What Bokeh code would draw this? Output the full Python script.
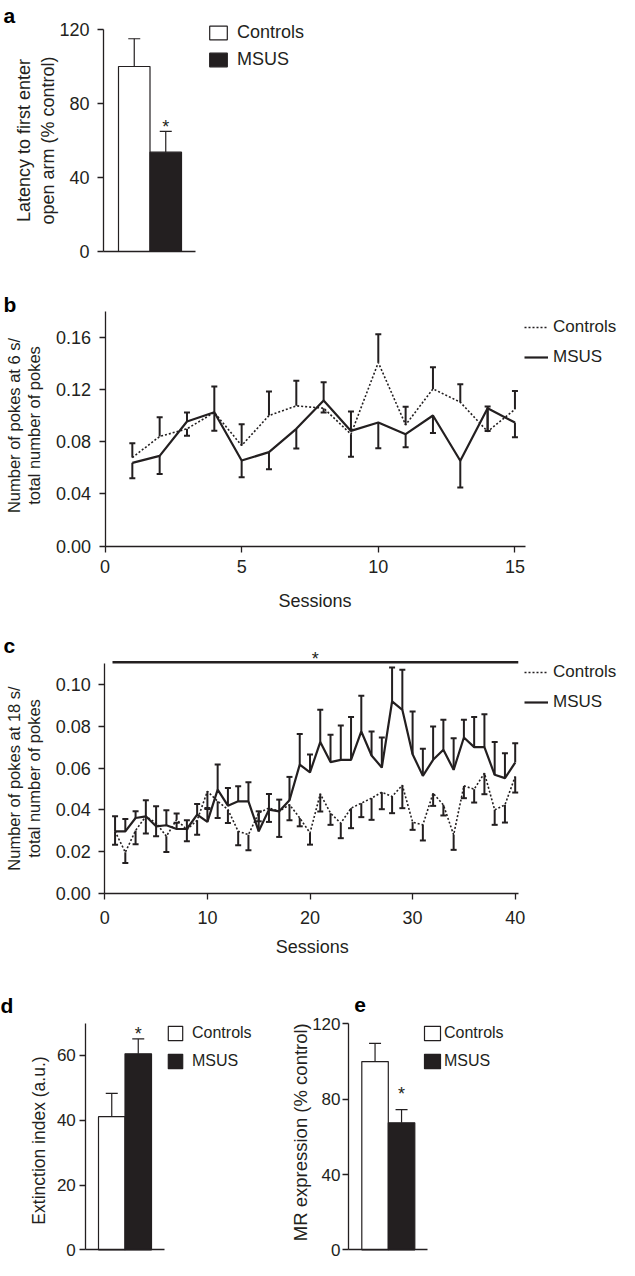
import numpy as np
from bokeh.plotting import figure
from bokeh.models import (ColumnDataSource, Range1d, FixedTicker, Whisker, TeeHead,
                          Legend, LegendItem, Label, NumeralTickFormatter)
from bokeh.layouts import column, row
from bokeh.embed import file_html
from bokeh.resources import INLINE

INK = "#231f20"
FONT = "Liberation Sans"

# ---------------- data ----------------
groups = ["Controls", "MSUS"]

# a: latency to first enter open arm (% control)
latency_mean = [100.0, 53.7]
latency_sem = [15.0, 11.2]

# b: pokes at 6 s / total pokes, sessions 1-15
sessions_b = list(range(1, 16))
b_controls = [0.0678, 0.0839, 0.0898, 0.1023, 0.0770, 0.1000, 0.1074, 0.1056,
              0.0857, 0.1406, 0.0928, 0.1204, 0.1102, 0.0877, 0.1048]
b_controls_sem = [0.0110, 0.0148, 0.0054, 0.0140, 0.0163, 0.0184, 0.0192, 0.0033,
                  0.0174, 0.0217, 0.0140, 0.0166, 0.0138, 0.0192, 0.0140]
b_controls_dir = [1, 1, -1, -1, 1, 1, 1, -1, -1, 1, 1, 1, 1, 1, 1]
b_msus = [0.0637, 0.0691, 0.0954, 0.1025, 0.0655, 0.0719, 0.0898, 0.1115,
          0.0882, 0.0946, 0.0857, 0.1000, 0.0653, 0.1056, 0.0946]
b_msus_sem = [0.0117, 0.0140, 0.0069, 0.0197, 0.0128, 0.0130, 0.0151, 0.0140,
              0.0148, 0.0197, 0.0100, 0.0135, 0.0204, 0.0174, 0.0112]
b_msus_dir = [-1, -1, 1, 1, -1, -1, -1, 1, 1, -1, -1, -1, -1, -1, -1]

# c: pokes at 18 s / total pokes, sessions 1-40
sessions_c = list(range(1, 41))
c_controls = [0.0297, 0.0196, 0.0301, 0.0369, 0.0337, 0.0273, 0.0353, 0.0305, 0.0350, 0.0489,
              0.0441, 0.0401, 0.0297, 0.0281, 0.0385, 0.0409, 0.0393, 0.0425, 0.0361, 0.0289,
              0.0477, 0.0384, 0.0336, 0.0408, 0.0432, 0.0456, 0.0485, 0.0464, 0.0518, 0.0341,
              0.0328, 0.0480, 0.0424, 0.0280, 0.0515, 0.0499, 0.0576, 0.0400, 0.0424, 0.0560]
c_controls_sem = [0.0064, 0.0051, 0.0066, 0.0083, 0.0064, 0.0075, 0.0030, 0.0056, 0.0069, 0.0085,
                  0.0080, 0.0064, 0.0067, 0.0075, 0.0040, 0.0067, 0.0123, 0.0075, 0.0040, 0.0056,
                  0.0085, 0.0056, 0.0072, 0.0096, 0.0067, 0.0104, 0.0082, 0.0080, 0.0110, 0.0037,
                  0.0075, 0.0061, 0.0051, 0.0072, 0.0059, 0.0064, 0.0101, 0.0072, 0.0085, 0.0077]
c_controls_dir = [-1, -1, -1, -1, -1, -1, 1, -1, -1, -1,
                  -1, -1, -1, -1, -1, -1, -1, -1, -1, -1,
                  -1, -1, -1, -1, -1, -1, -1, -1, -1, -1,
                  -1, -1, -1, -1, -1, -1, -1, -1, -1, -1]
c_msus = [0.0297, 0.0297, 0.0361, 0.0369, 0.0321, 0.0326, 0.0308, 0.0308, 0.0377, 0.0342,
          0.0497, 0.0420, 0.0441, 0.0441, 0.0297, 0.0401, 0.0393, 0.0446, 0.0617, 0.0580,
          0.0725, 0.0629, 0.0640, 0.0640, 0.0776, 0.0661, 0.0603, 0.0920, 0.0880, 0.0667,
          0.0563, 0.0640, 0.0688, 0.0592, 0.0747, 0.0701, 0.0701, 0.0568, 0.0552, 0.0627]
c_msus_sem = [0.0072, 0.0059, 0.0032, 0.0077, 0.0096, 0.0072, 0.0030, 0.0042, 0.0051, 0.0067,
              0.0120, 0.0085, 0.0072, 0.0091, 0.0096, 0.0075, 0.0056, 0.0112, 0.0147, 0.0085,
              0.0155, 0.0131, 0.0165, 0.0205, 0.0171, 0.0115, 0.0144, 0.0163, 0.0192, 0.0205,
              0.0130, 0.0160, 0.0144, 0.0152, 0.0085, 0.0144, 0.0158, 0.0157, 0.0120, 0.0093]
c_msus_dir = [1] * 40
c_sig_level = 0.1108

# d: extinction index (a.u.)
extinction_mean = [41.1, 60.5]
extinction_sem = [7.2, 4.6]

# e: MR expression (% control)
mr_mean = [100.0, 67.5]
mr_sem = [9.7, 7.0]


# ---------------- helpers ----------------
def panel_fig(width, height, axis_x_px, axis_x_data, px_per_x, zero_y_px, px_per_y,
              tick_standoff):
    """Full-frame figure; y axis drawn at axis_x_data (axis_x_px from the left edge),
    x axis drawn at y=0 (zero_y_px from the top edge)."""
    x_start = axis_x_data - axis_x_px / px_per_x
    y_start = -(height - zero_y_px) / px_per_y
    p = figure(width=width, height=height,
               x_range=Range1d(x_start, x_start + width / px_per_x),
               y_range=Range1d(y_start, y_start + height / px_per_y),
               output_backend="svg", toolbar_location=None,
               min_border_left=0, min_border_right=0, min_border_top=0, min_border_bottom=0)
    p.outline_line_color = None
    p.xgrid.visible = False
    p.ygrid.visible = False
    p.background_fill_color = "white"
    p.border_fill_color = "white"
    for ax in p.axis:
        ax.axis_line_color = INK
        ax.axis_line_width = 1.3
        ax.major_tick_line_color = INK
        ax.major_tick_line_width = 1.3
        ax.major_tick_out = 6
        ax.major_tick_in = 0
        ax.minor_tick_line_color = None
        ax.major_label_text_font = FONT
        ax.major_label_text_color = INK
    p.yaxis.major_label_standoff = tick_standoff
    p.yaxis.fixed_location = axis_x_data
    p.xaxis.fixed_location = 0
    return p


def text(p, s, x, y_top, size, angle=0.0, align="left", baseline="alphabetic", bold=False):
    p.add_layout(Label(x=x, y=p.height - y_top, x_units="screen", y_units="screen",
                       text=s, angle=angle, text_font=FONT,
                       text_font_style="bold" if bold else "normal",
                       text_font_size=size, text_color="black" if bold else INK,
                       text_align=align, text_baseline=baseline))


def ylabel_lines(p, lines, baselines_x, center_y, size):
    for s, bx in zip(lines, baselines_x):
        text(p, s, bx, center_y, size, angle=np.pi / 2, align="center")


def whiskers(p, xs, ys, sems, dirs, cap, lw):
    xs = np.asarray(xs, float); ys = np.asarray(ys, float)
    sems = np.asarray(sems, float); dirs = np.asarray(dirs)
    up = dirs > 0
    dn = ~up
    if up.any():
        src = ColumnDataSource(dict(base=xs[up], lower=ys[up], upper=ys[up] + sems[up]))
        p.add_layout(Whisker(source=src, base="base", lower="lower", upper="upper",
                             dimension="height", line_color=INK, line_width=lw,
                             upper_head=TeeHead(size=cap, line_color=INK, line_width=lw),
                             lower_head=None))
    if dn.any():
        src = ColumnDataSource(dict(base=xs[dn], lower=ys[dn] - sems[dn], upper=ys[dn]))
        p.add_layout(Whisker(source=src, base="base", lower="lower", upper="upper",
                             dimension="height", line_color=INK, line_width=lw,
                             lower_head=TeeHead(size=cap, line_color=INK, line_width=lw),
                             upper_head=None))


def bar_panel(width, height, axis_x_px, bar_gap_px, bar_px, zero_y_px, px_per_unit,
              axis_len_px, ymax, yticks, means, sems, tick_size, tick_standoff, star_offset,
              legend_loc, glyph_w, glyph_h, lab_standoff, spacing, legend_size):
    x0 = 0.5 - bar_gap_px / bar_px
    p = panel_fig(width, height, axis_x_px, x0, bar_px, zero_y_px, px_per_unit, tick_standoff)
    r_c = p.vbar(x=[1], top=[means[0]], width=1.0, bottom=0, fill_color="white",
                 line_color=INK, line_width=1.2)
    r_m = p.vbar(x=[2], top=[means[1]], width=1.0, bottom=0, fill_color=INK,
                 line_color=INK, line_width=1.2)
    whiskers(p, [1, 2], means, sems, [1, 1], 12, 1.2)
    p.add_layout(Label(x=2, y=means[1] + sems[1], text="*", text_align="center",
                       text_baseline="alphabetic", y_offset=star_offset,
                       text_font=FONT, text_font_size="18px", text_color=INK))
    p.xaxis.ticker = FixedTicker(ticks=[])
    p.xaxis.major_label_text_font_size = "0px"
    p.xaxis.bounds = (x0, x0 + axis_len_px / bar_px)
    p.yaxis.ticker = FixedTicker(ticks=yticks)
    p.yaxis.bounds = (0, ymax)
    p.yaxis.major_label_text_font_size = tick_size
    leg = Legend(items=[LegendItem(label=groups[0], renderers=[r_c]),
                        LegendItem(label=groups[1], renderers=[r_m])],
                 location=legend_loc, orientation="vertical",
                 glyph_width=glyph_w, glyph_height=glyph_h, label_height=22,
                 label_standoff=lab_standoff, spacing=spacing,
                 padding=0, margin=0,
                 border_line_color=None, background_fill_alpha=0,
                 label_text_font=FONT, label_text_font_size=legend_size,
                 label_text_color=INK)
    p.add_layout(leg)
    return p


def line_panel(height, axis_x_px, px_per_session, zero_y_px, px_per_unit,
               xmax_axis, ymax_axis, xticks, yticks, x_standoff, sessions,
               ctrl, ctrl_sem, ctrl_dir, msus, msus_sem, msus_dir, legend_loc):
    p = panel_fig(619, height, axis_x_px, 0, px_per_session, zero_y_px, px_per_unit, 8)
    whiskers(p, sessions, ctrl, ctrl_sem, ctrl_dir, 6, 2)
    whiskers(p, sessions, msus, msus_sem, msus_dir, 6, 2)
    r_c = p.line(sessions, ctrl, line_color=INK, line_width=1.6, line_dash="2 2")
    r_m = p.line(sessions, msus, line_color=INK, line_width=2.2)
    p.xaxis.ticker = FixedTicker(ticks=xticks)
    p.xaxis.bounds = (0, xmax_axis)
    p.yaxis.ticker = FixedTicker(ticks=yticks)
    p.yaxis.bounds = (0, ymax_axis)
    p.yaxis.formatter = NumeralTickFormatter(format="0.00")
    for ax in p.axis:
        ax.major_label_text_font_size = "18px"
    p.xaxis.major_label_standoff = x_standoff
    leg = Legend(items=[LegendItem(label=groups[0], renderers=[r_c]),
                        LegendItem(label=groups[1], renderers=[r_m])],
                 location=legend_loc, orientation="vertical",
                 glyph_width=24, glyph_height=20, label_height=20,
                 label_standoff=5, spacing=10, padding=0, margin=0,
                 border_line_color=None, background_fill_alpha=0,
                 label_text_font=FONT, label_text_font_size="17px",
                 label_text_color=INK)
    p.add_layout(leg)
    return p


# ---------------- panel a ----------------
fig_a = bar_panel(619, 285, 103, 15.0, 31.5, 251, 1.85, 92, 120, [0, 40, 80, 120],
                  latency_mean, latency_sem, "18px", 8, 4, (207, 215), 22, 17, 8, 5, "18px")
text(fig_a, "a", 3, 15, "21px", bold=True)
ylabel_lines(fig_a, ["Latency to first enter", "open arm (% control)"], [23, 47.5], 140, "18px")

# ---------------- panel b ----------------
fig_b = line_panel(340, 104.5, 27.33, 260.5, 1305, 15.38, 0.18, [0, 5, 10, 15],
                   [0, 0.04, 0.08, 0.12, 0.16], 8, sessions_b,
                   b_controls, b_controls_sem, b_controls_dir,
                   b_msus, b_msus_sem, b_msus_dir, (524, 258))
text(fig_b, "b", 3, 18.5, "21px", bold=True)
ylabel_lines(fig_b, ["Number of pokes at 6 s/", "total number of pokes"], [13.5, 33.5], 140, "16.5px")
text(fig_b, "Sessions", 314.5, 315.5, "18px", align="center")

# ---------------- panel c ----------------
fig_c = line_panel(360, 104.3, 10.26, 267.7, 2084, 40.3, 0.110, [0, 10, 20, 30, 40],
                   [0, 0.02, 0.04, 0.06, 0.08, 0.10], 12, sessions_c,
                   c_controls, c_controls_sem, c_controls_dir,
                   c_msus, c_msus_sem, c_msus_dir, (524, 273))
fig_c.segment(x0=[sessions_c[0] - 0.25], y0=[c_sig_level], x1=[sessions_c[-1] + 0.3],
              y1=[c_sig_level], line_color=INK, line_width=2.6)
fig_c.add_layout(Label(x=(sessions_c[0] + sessions_c[-1]) / 2, y=c_sig_level, text="*",
                       text_align="center", text_baseline="alphabetic", y_offset=3,
                       text_font=FONT, text_font_size="18px", text_color=INK))
text(fig_c, "c", 3, 20, "21px", bold=True)
ylabel_lines(fig_c, ["Number of pokes at 18 s/", "total number of pokes"], [13.5, 33.5], 153, "16.5px")
text(fig_c, "Sessions", 311.7, 321, "18px", align="center")

# ---------------- panel d ----------------
fig_d = bar_panel(280, 275, 85.3, 12.7, 26.5, 264.3, 3.24, 78.4, 70, [0, 20, 40, 60],
                  extinction_mean, extinction_sem, "17px", 4, 5, (166, 188), 18, 18, 8, 6, "16px")
text(fig_d, "d", 0, 19.5, "21px", bold=True)
ylabel_lines(fig_d, ["Extinction index (a.u.)"], [38.3], 155, "17.5px")

# ---------------- panel e ----------------
fig_e = bar_panel(339, 275, 68, 13.3, 26.5, 264.3, 1.8825, 79, 120, [0, 40, 80, 120],
                  mr_mean, mr_sem, "17px", 2, 16, (142, 188), 20, 18, 2, 6, "16px")
text(fig_e, "e", 73.7, 19.5, "21px", bold=True)
ylabel_lines(fig_e, ["MR expression (% control)"], [19.7], 146.7, "18.5px")

layout = column(fig_a, fig_b, fig_c, row(fig_d, fig_e))

open("out.html", "w").write(file_html(layout, INLINE))
